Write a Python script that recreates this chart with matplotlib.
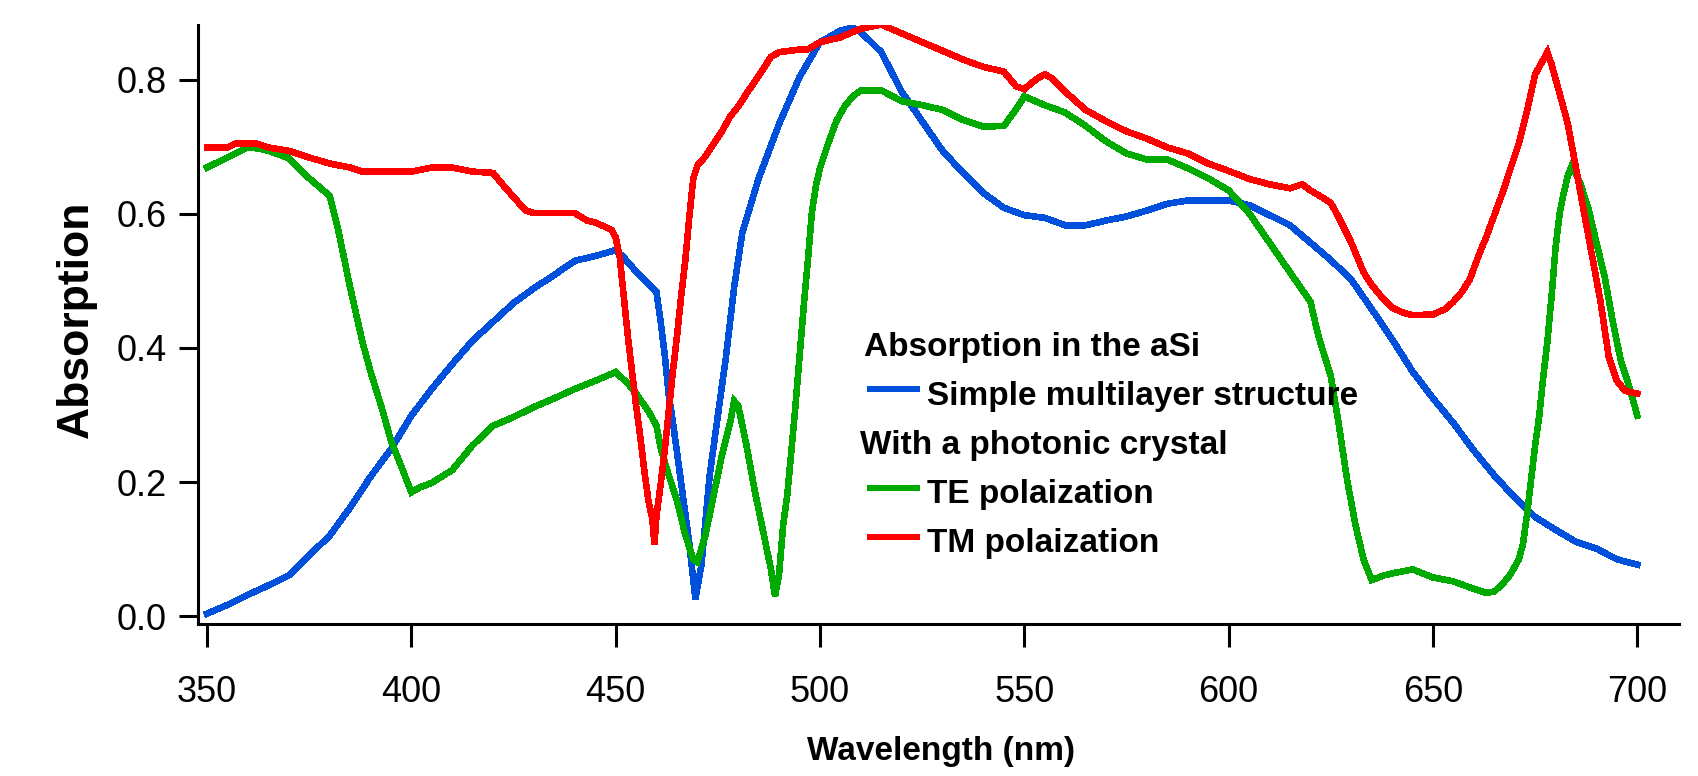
import matplotlib
matplotlib.use("Agg")
import matplotlib.pyplot as plt
from matplotlib import font_manager as fm
from matplotlib.lines import Line2D

# ---------------------------------------------------------------- data
wl_simple = [350, 355, 360, 365, 370, 375, 380, 385, 390, 395, 400, 405, 410, 415,
             420, 425, 430, 435, 440, 445, 450, 452, 455, 460, 461, 462, 463, 464,
             466, 468, 469.5, 471, 473, 475, 477, 479, 481, 485, 490, 495, 500, 505,
             508, 510, 515, 520, 525, 530, 535, 540, 545, 550, 555, 560, 565, 570,
             575, 580, 585, 590, 595, 600, 605, 610, 615, 620, 625, 630, 635, 640,
             645, 650, 655, 660, 665, 670, 675, 680, 685, 690, 695, 700]
abs_simple = [0.004, 0.017, 0.032, 0.046, 0.061, 0.091, 0.120, 0.162, 0.208, 0.249,
              0.299, 0.339, 0.376, 0.411, 0.439, 0.467, 0.489, 0.509, 0.530, 0.537,
              0.546, 0.535, 0.514, 0.483, 0.440, 0.390, 0.330, 0.290, 0.200, 0.110,
              0.026, 0.077, 0.210, 0.299, 0.387, 0.491, 0.572, 0.653, 0.734, 0.804,
              0.856, 0.873, 0.878, 0.871, 0.841, 0.782, 0.738, 0.694, 0.661, 0.631,
              0.609, 0.598, 0.594, 0.583, 0.583, 0.590, 0.596, 0.605, 0.615, 0.620,
              0.620, 0.620, 0.613, 0.598, 0.583, 0.557, 0.531, 0.502, 0.458, 0.413,
              0.365, 0.325, 0.288, 0.247, 0.210, 0.177, 0.148, 0.129, 0.111, 0.101,
              0.085, 0.077]

wl_te = [350, 355, 360, 363, 365, 370, 375, 380, 382, 385, 388, 390, 393, 395, 397,
         400, 402, 405, 410, 415, 420, 425, 430, 435, 440, 445, 450, 453, 455, 458,
         460, 461, 463, 465, 467, 469, 470, 472, 474, 476, 478, 479, 480, 482, 484,
         486, 488, 489, 490, 491, 492, 493, 494, 495, 496, 497, 498, 499, 500, 502,
         504, 506, 508, 510, 515, 520, 525, 530, 535, 540, 545, 548, 550, 555, 560,
         565, 570, 575, 580, 585, 590, 595, 600, 605, 610, 615, 620, 622, 625, 627,
         629, 631, 633, 635, 638, 640, 645, 650, 655, 660, 663, 665, 667, 669, 671,
         672, 673, 674, 675, 676, 677, 678, 679, 680, 681, 682, 683, 684, 686, 688,
         690, 692, 694, 696, 698, 700]
abs_te = [0.669, 0.684, 0.699, 0.697, 0.694, 0.683, 0.653, 0.627, 0.579, 0.491, 0.410,
          0.365, 0.306, 0.262, 0.232, 0.185, 0.192, 0.199, 0.218, 0.255, 0.284, 0.297,
          0.312, 0.325, 0.339, 0.351, 0.364, 0.347, 0.332, 0.306, 0.284, 0.251, 0.210,
          0.173, 0.122, 0.085, 0.081, 0.122, 0.181, 0.240, 0.288, 0.321, 0.314, 0.255,
          0.188, 0.129, 0.070, 0.030, 0.063, 0.137, 0.181, 0.247, 0.314, 0.387, 0.461,
          0.528, 0.601, 0.642, 0.668, 0.705, 0.738, 0.760, 0.775, 0.784, 0.784, 0.768,
          0.762, 0.755, 0.740, 0.730, 0.731, 0.756, 0.775, 0.762, 0.751, 0.731, 0.708,
          0.690, 0.681, 0.681, 0.668, 0.653, 0.635, 0.601, 0.557, 0.513, 0.469, 0.417,
          0.358, 0.284, 0.203, 0.137, 0.085, 0.054, 0.061, 0.064, 0.070, 0.058, 0.052,
          0.041, 0.035, 0.037, 0.048, 0.063, 0.085, 0.107, 0.151, 0.203, 0.255, 0.299,
          0.358, 0.410, 0.476, 0.550, 0.601, 0.631, 0.657, 0.672, 0.646, 0.609, 0.557,
          0.506, 0.439, 0.380, 0.343, 0.299]

wl_tm = [350, 355, 357, 362, 365, 370, 375, 380, 385, 388, 400, 405, 410, 415, 420,
         422, 425, 428, 430, 440, 443, 445, 448, 449, 450, 451, 452, 453, 454, 455,
         456, 457, 458, 459, 459.5, 460, 461, 462, 463, 464, 465, 466, 467, 468, 469,
         470, 472, 474, 476, 478, 480, 482, 484, 486, 488, 490, 495, 497, 500, 505,
         508, 510, 515, 520, 525, 530, 535, 540, 545, 548, 550, 553, 555, 557, 560,
         565, 570, 575, 580, 585, 590, 595, 600, 605, 610, 615, 618, 620, 623, 625,
         627, 630, 633, 635, 638, 640, 643, 645, 650, 653, 655, 657, 659, 661, 663,
         665, 667, 669, 671, 673, 675, 677, 678, 679, 681, 683, 685, 687, 689, 691,
         693, 695, 697, 700]
abs_tm = [0.699, 0.699, 0.705, 0.705, 0.699, 0.694, 0.684, 0.675, 0.669, 0.663, 0.663,
          0.669, 0.669, 0.663, 0.661, 0.646, 0.625, 0.605, 0.601, 0.601, 0.590, 0.587,
          0.579, 0.576, 0.565, 0.535, 0.476, 0.417, 0.365, 0.314, 0.269, 0.218, 0.173,
          0.144, 0.107, 0.151, 0.196, 0.247, 0.306, 0.365, 0.417, 0.476, 0.528, 0.594,
          0.653, 0.672, 0.686, 0.705, 0.723, 0.745, 0.760, 0.779, 0.797, 0.815, 0.834,
          0.841, 0.845, 0.845, 0.856, 0.863, 0.871, 0.876, 0.882, 0.869, 0.856, 0.843,
          0.830, 0.819, 0.812, 0.790, 0.786, 0.801, 0.808, 0.801, 0.782, 0.755, 0.738,
          0.723, 0.712, 0.699, 0.690, 0.675, 0.664, 0.652, 0.644, 0.638, 0.644, 0.635,
          0.624, 0.616, 0.594, 0.557, 0.513, 0.494, 0.472, 0.460, 0.452, 0.449, 0.450,
          0.458, 0.469, 0.483, 0.502, 0.535, 0.565, 0.598, 0.631, 0.668, 0.705, 0.753,
          0.808, 0.830, 0.841, 0.823, 0.779, 0.734, 0.668, 0.601, 0.535, 0.469, 0.387,
          0.351, 0.336, 0.332]

x_ticks = [350, 400, 450, 500, 550, 600, 650, 700]
y_ticks = [0.0, 0.2, 0.4, 0.6, 0.8]
y_tick_labels = ["0.0", "0.2", "0.4", "0.6", "0.8"]

legend_title = "Absorption in the aSi"
legend_subtitle = "With a photonic crystal"
series_names = ["Simple multilayer structure", "TE polaization", "TM polaization"]
series_colors = ["#0050DC", "#00AA00", "#FF0000"]

# ---------------------------------------------------------------- fonts
installed = {f.name for f in fm.fontManager.ttflist}
if "Liberation Sans Narrow" in installed:
    tick_family, tick_size = "Liberation Sans Narrow", 30
else:
    tick_family, tick_size = "Liberation Sans", 26
bold_family = ["Liberation Sans", "DejaVu Sans"]
plt.rcParams["font.family"] = [tick_family, "DejaVu Sans"]

# ---------------------------------------------------------------- figure
W, H, DPI = 1699, 776, 100
fig = plt.figure(figsize=(W / DPI, H / DPI), dpi=DPI, facecolor="white")
ax = fig.add_axes([198 / W, 1 - 624.3 / H, 1481 / W, 599.5 / H])
ax.set_facecolor("white")

lw = 4.0
series = [(wl_simple, abs_simple), (wl_te, abs_te), (wl_tm, abs_tm)]
for (wl, ab), color, name in zip(series, series_colors, series_names):
    ax.plot(wl, ab, color=color, lw=lw, antialiased=False,
            solid_joinstyle="miter", label=name)

ax.set_xlim(347.8, 710.2)
ax.set_ylim(-0.0119, 0.8818)

for side in ("top", "right"):
    ax.spines[side].set_visible(False)
for side in ("left", "bottom"):
    ax.spines[side].set_linewidth(2.2)
    ax.spines[side].set_color("black")

ax.set_xticks(x_ticks)
ax.set_xticklabels([str(v) for v in x_ticks])
ax.set_yticks(y_ticks)
ax.set_yticklabels(y_tick_labels)
ax.tick_params(axis="x", direction="out", length=16.5, width=2.2,
               pad=20.0, labelsize=tick_size)
ax.tick_params(axis="y", direction="out", length=13.7, width=2.2,
               pad=8.6, labelsize=tick_size)

ax.set_xlabel("Wavelength (nm)", family=bold_family, fontweight="bold",
              fontsize=24)
ax.xaxis.set_label_coords(0.5017, -0.1863)
ax.set_ylabel("Absorption", family=bold_family, fontweight="bold",
              fontsize=32, va="center")
ax.yaxis.set_label_coords(-0.0824, 0.5093)

# ---------------------------------------------------------------- legend block
leg_font = dict(family=bold_family, fontweight="bold", fontsize=24,
                va="baseline", ha="left", transform=ax.transAxes)
ax.text(0.4497, 0.4475, legend_title, **leg_font)
ax.text(0.4470, 0.2841, legend_subtitle, **leg_font)

rows = [(0.3925, 0.3658), (0.2274, 0.2024), (0.1456, 0.1206)]
for (line_y, text_y), color, name in zip(rows, series_colors, series_names):
    ax.add_line(Line2D([0.4517, 0.4875], [line_y, line_y], color=color, lw=lw,
                       antialiased=False, transform=ax.transAxes,
                       solid_capstyle="butt"))
    ax.text(0.4922, text_y, name, **leg_font)

fig.savefig("out.png", dpi=DPI, facecolor="white")
